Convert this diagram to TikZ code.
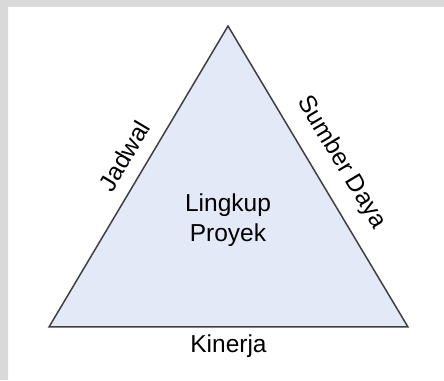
\documentclass[tikz,border=0pt]{standalone}
\usepackage{fontspec}
\setmainfont{Liberation Sans}
\definecolor{trifill}{RGB}{227,233,246}
\definecolor{triline}{RGB}{64,64,64}
\definecolor{markgray}{RGB}{217,217,217}
\tikzset{
	sisi/.style={draw=triline, line width=1.5pt, line join=miter, fill=trifill},
	teks/.style={font=\fontsize{24.5}{29.4}\selectfont, text=black, inner sep=3pt},
}
\begin{document}
\begin{tikzpicture}[x=1pt,y=1pt]
	\useasboundingbox (0,0) rectangle (444,380);
	% strip abu-abu di tepi
	\fill[markgray] (0,373) rectangle (444,380) (0,0) rectangle (8,380);

	\coordinate (puncak) at (228,354);
	\coordinate (kiri) at (49,53);
	\coordinate (kanan) at (408,53);

	\draw[sisi] (kiri) -- (puncak) node[pos=0.53, sloped, above=10pt, teks] (jadwal) {Jadwal} -- (kanan) node[midway, sloped, above=12pt, teks] (sumber) {Sumber Daya} -- cycle;

	\path (kiri) -- (kanan) node[midway, below=5pt, teks] (kinerja) {Kinerja};

	\node[teks, align=center] (lingkup) at (228,160) {Lingkup\\Proyek};
\end{tikzpicture}
\end{document}
